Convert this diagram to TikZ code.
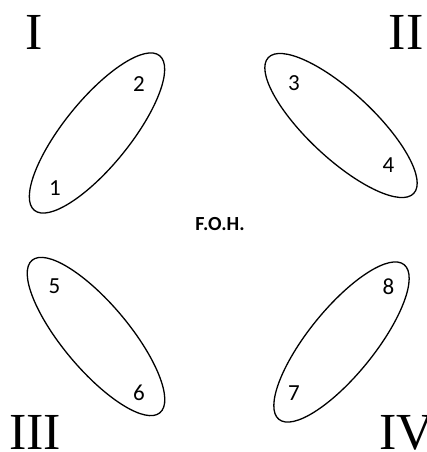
\documentclass[tikz,border=0pt]{standalone}
\usepackage{fontspec}
\setmainfont{Liberation Serif}
\newfontfamily\digitfont{Carlito}
\begin{document}
\begin{tikzpicture}[x=1pt,y=-1pt,
  zone/.style={line width=1.3pt},
  roman/.style={font=\fontsize{52}{52}\selectfont, inner sep=0pt, anchor=base},
  seat/.style={font=\digitfont\fontsize{23}{23}\selectfont, inner sep=0pt},
  foh/.style={font=\digitfont\bfseries\fontsize{20}{20}\selectfont, inner sep=0pt}]
\useasboundingbox (0,0) rectangle (427,452);
% ellipses
\draw[zone, rotate around={51:(97,133)}] (97,133) ellipse [x radius=99.5pt, y radius=33pt];
\draw[zone, rotate around={-43:(341,125.5)}] (341,125.5) ellipse [x radius=99.5pt, y radius=33pt];
\draw[zone, rotate around={-50:(96,336.5)}] (96,336.5) ellipse [x radius=99.5pt, y radius=33pt];
\draw[zone, rotate around={51:(341.5,342)}] (341.5,342) ellipse [x radius=99.5pt, y radius=33pt];
% roman numerals
\node[roman] (rI) at (34.5,50) {I};
\node[roman] (rII) at (406,50) {II};
\node[roman] (rIII) at (35,449) {III};
\node[roman, anchor=base west] (rIV) at (379,449) {IV};
% seats
\node[seat] (s1) at (55,188) {1};
\node[seat] (s2) at (139,84) {2};
\node[seat] (s3) at (294,83) {3};
\node[seat] (s4) at (388.5,165.5) {4};
\node[seat] (s5) at (54.5,286.5) {5};
\node[seat] (s6) at (139,393) {6};
\node[seat] (s7) at (294,393) {7};
\node[seat] (s8) at (388.5,287) {8};
% front of house
\node[foh] (foh) at (220,224) {F.O.H.};
\end{tikzpicture}
\end{document}
